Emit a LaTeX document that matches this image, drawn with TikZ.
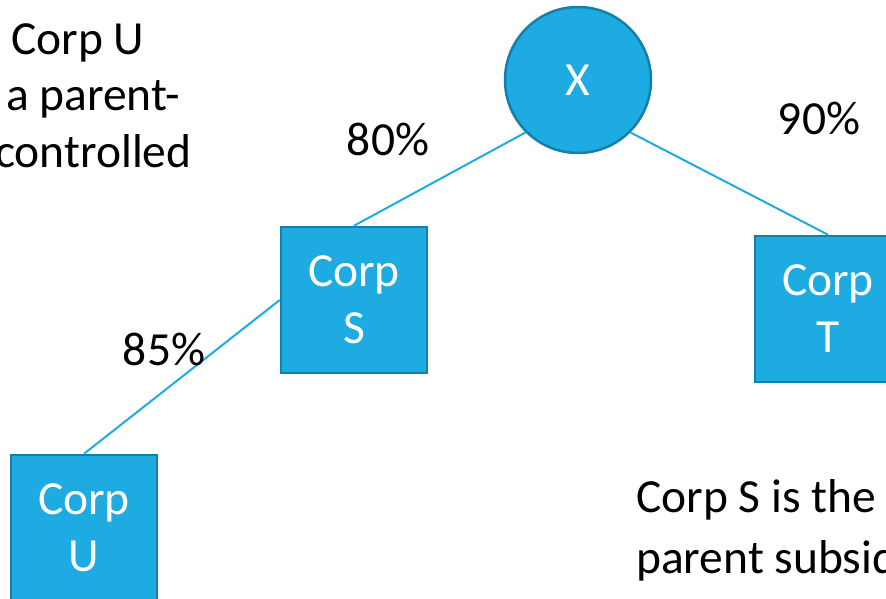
\documentclass[tikz,border=0pt]{standalone}
\usepackage{fontspec}
\setmainfont{Carlito}
\usepackage{xcolor}
\usetikzlibrary{positioning}

\definecolor{corpfill}{RGB}{30,171,226}
\definecolor{corpedge}{RGB}{22,126,168}

\tikzset{
	every node/.style={font=\fontsize{47.5}{57}\selectfont, inner sep=0pt},
	corp/.style={rectangle, draw=corpedge, line width=2.5pt, fill=corpfill,
		minimum size=146pt, text=white, align=center},
	owner/.style={circle, draw=corpedge, line width=2.5pt, fill=corpfill,
		minimum size=146pt, text=white},
	link/.style={draw=corpfill, line width=2pt},
	share/.style={anchor=base}
}

\begin{document}
\begin{tikzpicture}[x=1pt,y=1pt]
	% frame
	\useasboundingbox (0,0) rectangle (886,598);
	\clip (0,0) rectangle (886,598);
	
	% companies
	\node[owner] (x) at (578,518) {X};
	\node[corp] (corpS) at (354,298) {Corp\\S};
	\node[corp] (corpT) at (828,289) {Corp\\T};
	\node[corp] (corpU) at (84,70) {Corp\\U};
	
	% ownership lines
	\draw[link] (x.south west) -- (corpS.north);
	\draw[link] (x.south east) -- (corpT.north);
	\draw[link] (corpS.west) -- (corpU.north);
	
	% percentages
	\node[share] (pS) at (388,442) {80\%};
	\node[share] (pT) at (819,463) {90\%};
	\node[share] (pU) at (164,233) {85\%};
	
	% notes
	\node[anchor=base west] (noteA) at (11,543) {Corp U};
	\node[anchor=base west] (noteB) at (6,487) {a parent-};
	\node[anchor=base west] (noteC) at (-5,430) {controlled};
	
	\node[anchor=base west] (noteD) at (636,86) {Corp S is the};
	\node[anchor=base west] (noteE) at (636,25) {parent subsidiary};
\end{tikzpicture}
\end{document}
